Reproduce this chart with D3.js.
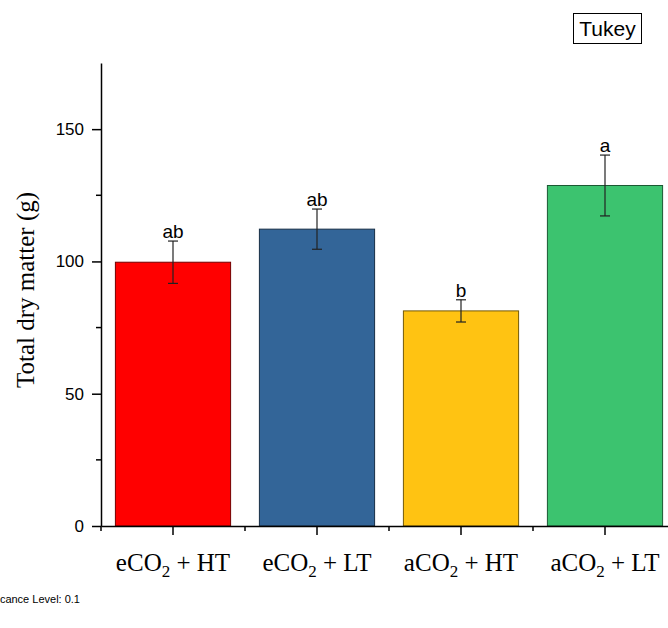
<!DOCTYPE html>
<html>
<head>
<meta charset="utf-8">
<style>
body { margin: 0; background: #fff; }
svg { display: block; }
</style>
</head>
<body></body>
<script src="https://d3js.org/d3.v7.min.js"></script>
<script>

var groups = ["eCO2 + HT", "eCO2 + LT", "aCO2 + HT", "aCO2 + LT"];
var means = [99.7, 112.2, 81.3, 128.7];
var errs = [8.0, 7.6, 4.2, 11.5];
var letters = ["ab", "ab", "b", "a"];
var colors = ["#ff0000", "#336598", "#ffc312", "#3cc36f"];
var yTicks = [0, 50, 100, 150];
var yMinor = [25, 75, 125];

var W = 668, H = 628;
var x0 = 101, y0 = 526;
var sans = "Liberation Sans, Arial, sans-serif";
var serif = "Liberation Serif, Times New Roman, serif";

var svg = d3.select("body").append("svg")
	.attr("width", W)
	.attr("height", H);

var xScale = d3.scaleBand()
	.domain(groups)
	.range([x0, x0 + 4 * 144])
	.paddingInner(0.2)
	.paddingOuter(0.1);

var yScale = d3.scaleLinear()
	.domain([0, 175])
	.range([y0, 63]);

// bars
svg.append("g").selectAll("rect")
	.data(groups)
  .enter().append("rect")
	.attr("x", d => xScale(d))
	.attr("y", (d, i) => yScale(means[i]))
	.attr("width", xScale.bandwidth())
	.attr("height", (d, i) => y0 - yScale(means[i]))
	.attr("fill", (d, i) => colors[i])
	.attr("stroke", (d, i) => d3.color(colors[i]).darker(2.2))
	.attr("stroke-width", 1);

// error bars + letters
var eb = svg.append("g").attr("stroke", "#222").attr("stroke-width", 1.2);
groups.forEach((g, i) => {
	var cx = xScale(g) + xScale.bandwidth() / 2;
	var top = yScale(means[i] + errs[i]), bot = yScale(means[i] - errs[i]);
	eb.append("line").attr("x1", cx).attr("x2", cx).attr("y1", top).attr("y2", bot);
	eb.append("line").attr("x1", cx - 5).attr("x2", cx + 5).attr("y1", top).attr("y2", top);
	eb.append("line").attr("x1", cx - 5).attr("x2", cx + 5).attr("y1", bot).attr("y2", bot);
	svg.append("text")
		.attr("x", cx)
		.attr("y", top - 3)
		.attr("text-anchor", "middle")
		.attr("font-family", sans)
		.attr("font-size", 19)
		.text(letters[i]);
});

// y axis
var yAxis = svg.append("g")
	.attr("transform", "translate(" + x0 + ",0)")
	.call(d3.axisLeft(yScale).tickValues(yTicks).tickSize(9).tickPadding(8).tickSizeOuter(0));
yAxis.select(".domain").attr("stroke-width", 1.5);
yAxis.selectAll(".tick line").attr("stroke-width", 1.5);
yAxis.selectAll("text")
	.attr("font-family", sans)
	.attr("font-size", 17)
	.attr("fill", "#000");
yAxis.selectAll(".minor")
	.data(yMinor)
  .enter().append("line")
	.attr("x1", -5).attr("x2", 0)
	.attr("y1", d => yScale(d)).attr("y2", d => yScale(d))
	.attr("stroke", "#000").attr("stroke-width", 1.5);

// x axis
var xAxis = svg.append("g")
	.attr("transform", "translate(0," + y0 + ")")
	.call(d3.axisBottom(xScale).tickSize(9).tickSizeOuter(0).tickFormat(""));
xAxis.select(".domain").attr("stroke-width", 1.5);
xAxis.selectAll(".tick line").attr("stroke-width", 1.5);
var bounds = groups.map(g => xScale(g) - xScale.step() * xScale.paddingInner() / 2);
bounds.push(xScale(groups[3]) + xScale.bandwidth() + xScale.step() * 0.1);
xAxis.selectAll(".minor")
	.data(bounds)
  .enter().append("line")
	.attr("x1", d => d).attr("x2", d => d)
	.attr("y1", 0).attr("y2", 5)
	.attr("stroke", "#000").attr("stroke-width", 1.5);

// category labels with subscript
groups.forEach(g => {
	var parts = g.split("2");
	var t = svg.append("text")
		.attr("x", xScale(g) + xScale.bandwidth() / 2)
		.attr("y", 571)
		.attr("text-anchor", "middle")
		.attr("font-family", serif)
		.attr("font-size", 25);
	t.append("tspan").text(parts[0]);
	t.append("tspan").attr("font-size", 17).attr("dy", 6).text("2");
	t.append("tspan").attr("dy", -6).text(parts[1]);
});

// y title
svg.append("text")
	.attr("transform", "translate(34," + 290 + ") rotate(-90)")
	.attr("text-anchor", "middle")
	.attr("font-family", serif)
	.attr("font-size", 25)
	.text("Total dry matter (g)");

// Tukey box
svg.append("rect")
	.attr("x", 573.5).attr("y", 13.5)
	.attr("width", 68).attr("height", 30)
	.attr("fill", "none").attr("stroke", "#000").attr("stroke-width", 1);
svg.append("text")
	.attr("x", 607.5).attr("y", 36)
	.attr("text-anchor", "middle")
	.attr("font-family", sans)
	.attr("font-size", 21)
	.text("Tukey");

svg.append("text")
	.attr("x", 80).attr("y", 603)
	.attr("text-anchor", "end")
	.attr("font-family", sans)
	.attr("font-size", 11)
	.text("Significance Level: 0.1");

</script>
</html>
